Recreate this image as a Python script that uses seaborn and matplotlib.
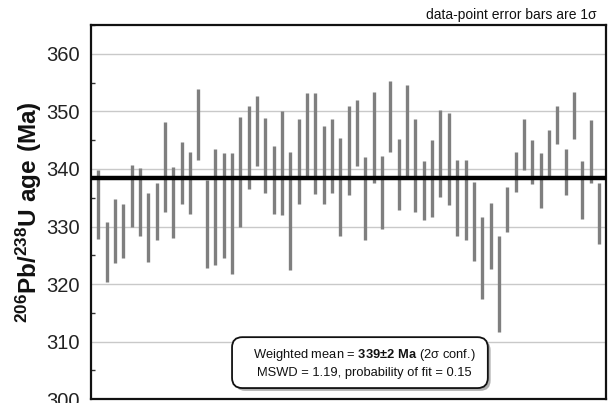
import numpy as np
import pandas as pd
import matplotlib
matplotlib.use("Agg")
import matplotlib.pyplot as plt
import matplotlib.patheffects as pe
from matplotlib.patches import FancyBboxPatch
from matplotlib.ticker import MultipleLocator
import seaborn as sns

# --- data (1-sigma error bar ends, Ma) ---
lows = [327.8, 320.3, 323.6, 324.5, 329.9, 328.3, 323.9, 327.6, 332.5, 328.0,
        334.0, 332.1, 341.5, 322.8, 323.4, 324.5, 321.8, 330.0, 336.5, 340.5,
        335.9, 332.2, 332.0, 322.5, 334.0, 338.6, 335.7, 334.0, 335.8, 328.3,
        335.5, 340.5, 327.6, 337.6, 329.5, 342.9, 332.8, 338.7, 332.6, 331.2,
        331.7, 335.1, 333.7, 328.4, 327.6, 324.1, 317.5, 322.7, 311.7, 329.0,
        336.0, 339.9, 337.4, 333.3, 338.3, 344.3, 335.5, 345.2, 331.3, 337.6,
        326.9]
highs = [339.9, 330.8, 334.7, 334.0, 340.7, 340.1, 335.8, 337.5, 348.2, 340.3,
         344.7, 342.9, 353.9, 338.1, 343.5, 342.7, 342.7, 349.0, 351.0, 352.7,
         348.9, 343.9, 350.0, 343.0, 348.7, 353.2, 353.2, 347.5, 348.7, 345.3,
         351.0, 351.9, 342.1, 353.3, 342.2, 355.2, 345.2, 354.5, 348.6, 341.3,
         345.1, 350.3, 349.8, 341.6, 341.6, 337.7, 331.7, 334.1, 328.3, 336.9,
         343.0, 348.6, 345.0, 342.7, 346.7, 350.9, 343.5, 353.4, 341.3, 348.5,
         337.5]
weighted_mean_line = 338.4
yticks = [300, 310, 320, 330, 340, 350, 360]

idx = list(range(1, len(lows) + 1))
df = pd.DataFrame({
    "spot": idx + idx,
    "age": lows + highs,
})

sns.set_theme(style="white")
plt.rcParams["font.family"] = ["Liberation Sans", "DejaVu Sans"]
plt.rcParams["mathtext.fontset"] = "custom"
plt.rcParams["mathtext.rm"] = "Liberation Sans"
plt.rcParams["mathtext.bf"] = "Liberation Sans:bold"

fig = plt.figure(figsize=(6.08, 4.03), dpi=100)
ax = fig.add_axes([0.1497, 0.0092, 0.9962 - 0.1497, 0.938 - 0.0092])

for y in yticks[1:]:
    ax.axhline(y, color="#c9c9c9", lw=1.0, zorder=0)

sns.lineplot(data=df, x="spot", y="age", units="spot", estimator=None,
             color="#7f7f7f", linewidth=2.4, solid_capstyle="butt",
             sort=False, ax=ax, legend=False, zorder=2)

ax.axhline(weighted_mean_line, color="black", lw=3.2, zorder=3)

ax.set_xlim(0.12, 61.8)
ax.set_ylim(300, 365)
ax.set_xticks([])
ax.set_yticks(yticks)
ax.yaxis.set_minor_locator(MultipleLocator(5))
ax.tick_params(axis="y", which="major", direction="in", length=0, pad=8,
               labelsize=14.5, labelcolor="#222222", left=True)
ax.tick_params(axis="y", which="minor", direction="in", length=3, width=1,
               color="#333333", left=True)
ax.set_xlabel("")
ax.set_ylabel(r"$\mathbf{^{206}Pb/^{238}U\ age\ (Ma)}$", fontsize=17.5,
              color="#111111", labelpad=2)

for s in ax.spines.values():
    s.set_color("#111111")
    s.set_linewidth(1.6)

fig.text(0.982, 0.963, "data-point error bars are 1σ", ha="right", va="center",
         fontsize=10, color="#111111")

# result box
box = FancyBboxPatch((0.274, 0.030), 0.771 - 0.274, 0.166 - 0.030,
                     boxstyle="round,pad=0,rounding_size=0.02",
                     mutation_aspect=1.375, transform=ax.transAxes,
                     facecolor="white", edgecolor="#111111", linewidth=1.3,
                     zorder=5)
box.set_path_effects([
    pe.SimplePatchShadow(offset=(2, -2), shadow_rgbFace="#9a9a9a", alpha=0.8),
    pe.Normal()])
ax.add_patch(box)
ax.text(0.531, 0.118, "Weighted mean = $\\mathbf{339{\\pm}2\\ Ma}$ (2σ conf.)",
        transform=ax.transAxes, ha="center", va="center", fontsize=9.3,
        color="#111111", zorder=6)
ax.text(0.531, 0.069, "MSWD = 1.19, probability of fit = 0.15",
        transform=ax.transAxes, ha="center", va="center", fontsize=9.3,
        color="#111111", zorder=6)

fig.savefig("out.png", dpi=100)
